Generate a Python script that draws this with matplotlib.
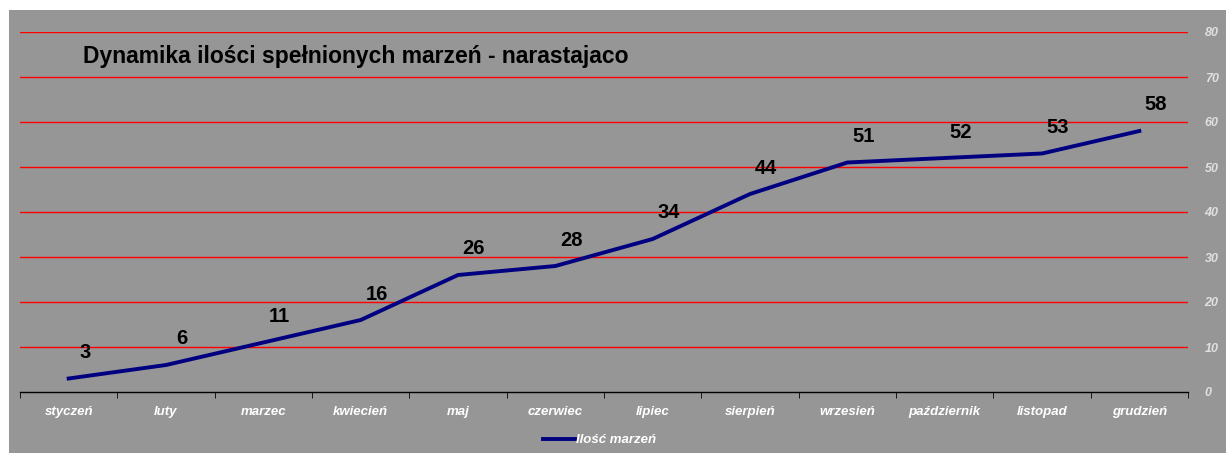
import matplotlib.pyplot as plt
import numpy as np

plt.rcParams["font.family"] = ["Liberation Sans", "DejaVu Sans"]

months = ["styczeń", "luty", "marzec", "kwiecień", "maj", "czerwiec",
          "lipiec", "sierpień", "wrzesień", "październik", "listopad", "grudzień"]
values = [3, 6, 11, 16, 26, 28, 34, 44, 51, 52, 53, 58]
yticks = [0, 10, 20, 30, 40, 50, 60, 70, 80]

bg = "#969696"
W, H = 1226, 453
fig = plt.figure(figsize=(W / 100, H / 100), dpi=100)
fig.patch.set_facecolor("white")

# grey chart area behind everything
back = fig.add_axes([9 / W, 0, 1 - 9 / W, 1 - 10 / H], zorder=-1)
back.set_facecolor(bg)
back.set_xticks([])
back.set_yticks([])
for s in back.spines.values():
    s.set_visible(False)

ax = fig.add_axes([20 / W, 61 / H, 1168 / W, 360 / H])
ax.patch.set_alpha(0)
x = np.arange(len(months))
ax.plot(x, values, color="#000080", lw=2.8, label="Ilość marzeń", zorder=3)

for xi, v in zip(x, values):
    ax.annotate(str(v), (xi, v), xytext=(16, 26), textcoords="offset pixels",
                ha="center", va="center", fontsize=14.5, fontweight="bold", color="black")

ax.set_xlim(-0.5, 11.5)
ax.set_ylim(0, 80)
for y in yticks[1:]:
    ax.axhline(y, color="red", lw=1, zorder=1)

for s in ["left", "top", "right"]:
    ax.spines[s].set_visible(False)
ax.spines["bottom"].set_color("black")
ax.spines["bottom"].set_linewidth(1)

ax.yaxis.tick_right()
ax.set_yticks(yticks)
ax.tick_params(axis="y", length=0, pad=12, labelsize=9, labelcolor="#e0e0e0")
for t in ax.get_yticklabels():
    t.set_fontstyle("italic")
    t.set_fontweight("bold")

ax.set_xticks(x)
ax.set_xticklabels(months)
ax.set_xticks(np.arange(-0.5, 12, 1), minor=True)
ax.tick_params(axis="x", which="major", length=0, pad=10, labelsize=9.5, labelcolor="white")
ax.tick_params(axis="x", which="minor", length=4, direction="out", color="black")
for t in ax.get_xticklabels():
    t.set_fontstyle("italic")
    t.set_fontweight("bold")

fig.text(83 / W, 1 - 57 / H, "Dynamika ilości spełnionych marzeń - narastajaco",
         fontsize=16.5, fontweight="bold", color="black", va="center", ha="left")

leg = ax.legend(loc="center", bbox_to_anchor=(600 / W, 1 - 440 / H),
                bbox_transform=fig.transFigure, frameon=False, handlelength=2.4,
                handletextpad=0.1, prop={"size": 9.5, "style": "italic", "weight": "bold"})
for t in leg.get_texts():
    t.set_color("white")

fig.savefig("out.png", dpi=100, facecolor=fig.get_facecolor())
